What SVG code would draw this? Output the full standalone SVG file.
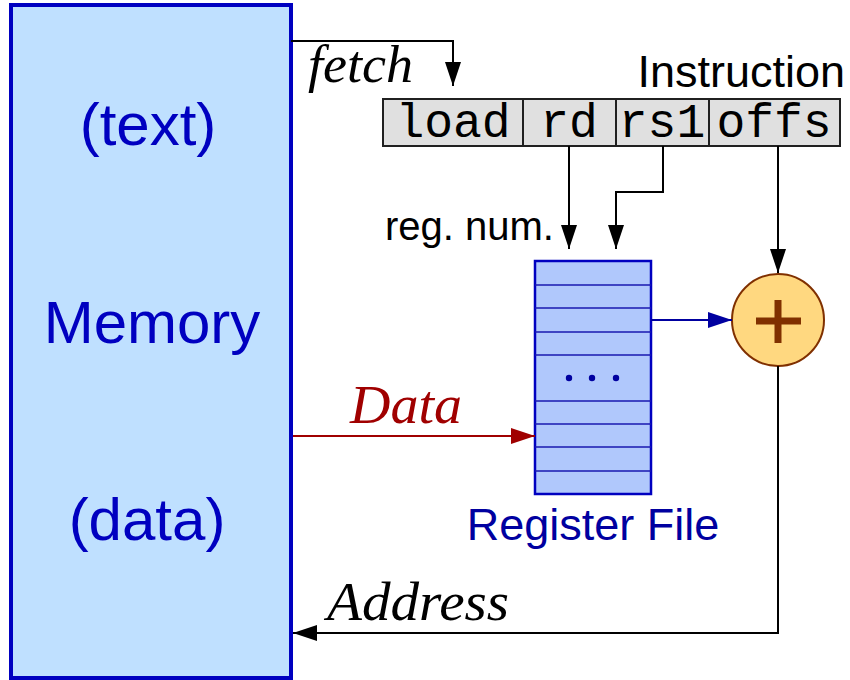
<svg xmlns="http://www.w3.org/2000/svg" width="850" height="680" viewBox="0 0 850 680">
<style>
.sans{font-family:"Liberation Sans",Arial,sans-serif}
.ital{font-family:"Liberation Serif","Times New Roman",serif;font-style:italic}
.mono{font-family:"Liberation Mono","Courier New",monospace;font-size:48px;fill:#000}
.blk{stroke:#000;stroke-width:2;fill:none}
.cell{fill:#e0e0e0;stroke:#202020;stroke-width:2}
.row{stroke:#1818b0;stroke-width:1.5}
</style>
<defs>
<marker id="ab" markerUnits="userSpaceOnUse" markerWidth="26" markerHeight="16" refX="24" refY="8" orient="auto"><path d="M0,0 L24,8 L0,16 Z" fill="#000"/></marker>
<marker id="ar" markerUnits="userSpaceOnUse" markerWidth="26" markerHeight="16" refX="24" refY="8" orient="auto"><path d="M0,0 L24,8 L0,16 Z" fill="#a00000"/></marker>
<marker id="au" markerUnits="userSpaceOnUse" markerWidth="26" markerHeight="16" refX="24" refY="8" orient="auto"><path d="M0,0 L24,8 L0,16 Z" fill="#0000a0"/></marker>
</defs>
<rect width="850" height="680" fill="#fff"/>

<g id="memory">
<rect x="11" y="5" width="280" height="673" fill="#bfe0ff" stroke="#0000c0" stroke-width="4"/>
<text class="sans" x="148" y="145" font-size="60" fill="#0000c0" text-anchor="middle">(text)</text>
<text class="sans" x="152" y="343" font-size="60" fill="#0000c0" text-anchor="middle">Memory</text>
<text class="sans" x="147" y="540" font-size="60" fill="#0000c0" text-anchor="middle">(data)</text>
</g>

<g id="instruction">
<rect class="cell" x="383" y="99" width="140" height="47"/>
<rect class="cell" x="523" y="99" width="93" height="47"/>
<rect class="cell" x="616" y="99" width="93" height="47"/>
<rect class="cell" x="709" y="99" width="131" height="47"/>
<text class="mono" x="453" y="137" text-anchor="middle">load</text>
<text class="mono" x="569" y="137" text-anchor="middle">rd</text>
<text class="mono" x="662" y="137" text-anchor="middle">rs1</text>
<text class="mono" x="774" y="137" text-anchor="middle">offs</text>
<text class="sans" x="845" y="87" font-size="45" fill="#000" text-anchor="end">Instruction</text>
</g>

<g id="regfile">
<rect x="535" y="261" width="116" height="233" fill="#b0c8fc" stroke="#0000c0" stroke-width="2.5"/>
<line class="row" x1="535" y1="285" x2="651" y2="285"/>
<line class="row" x1="535" y1="308" x2="651" y2="308"/>
<line class="row" x1="535" y1="332" x2="651" y2="332"/>
<line class="row" x1="535" y1="355" x2="651" y2="355"/>
<line class="row" x1="535" y1="401" x2="651" y2="401"/>
<line class="row" x1="535" y1="424" x2="651" y2="424"/>
<line class="row" x1="535" y1="447" x2="651" y2="447"/>
<line class="row" x1="535" y1="471" x2="651" y2="471"/>
<circle cx="569" cy="378" r="3.2" fill="#0000a0"/>
<circle cx="592" cy="378" r="3.2" fill="#0000a0"/>
<circle cx="616" cy="378" r="3.2" fill="#0000a0"/>
<text class="sans" x="593" y="540" font-size="45" fill="#0000a0" text-anchor="middle">Register File</text>
</g>

<g id="adder">
<circle cx="778" cy="320" r="46" fill="#ffd880" stroke="#803000" stroke-width="2"/>
<line x1="756" y1="321" x2="801" y2="321" stroke="#803000" stroke-width="7"/>
<line x1="778" y1="300" x2="778" y2="343" stroke="#803000" stroke-width="7"/>
</g>

<g id="connectors">
<path class="blk" d="M291,41 H453 V86" marker-end="url(#ab)"/>
<text class="ital" x="308" y="82" font-size="52" fill="#000" textLength="105" lengthAdjust="spacingAndGlyphs">fetch</text>
<path class="blk" d="M569,146 V249" marker-end="url(#ab)"/>
<path class="blk" d="M663,146 V192 H616 V249" marker-end="url(#ab)"/>
<path class="blk" d="M778,146 V273" marker-end="url(#ab)"/>
<text class="sans" x="385" y="240" font-size="40" fill="#000">reg. num.</text>
<path d="M651,320 H732" stroke="#0000a0" stroke-width="2" fill="none" marker-end="url(#au)"/>
<path d="M293,436 H535" stroke="#a00000" stroke-width="2" fill="none" marker-end="url(#ar)"/>
<text class="ital" x="350" y="423" font-size="54" fill="#a00000" textLength="112" lengthAdjust="spacingAndGlyphs">Data</text>
<path class="blk" d="M778,366 V633 H293" marker-end="url(#ab)"/>
<text class="ital" x="327" y="620" font-size="54" fill="#000" textLength="182" lengthAdjust="spacingAndGlyphs">Address</text>
</g>
</svg>
